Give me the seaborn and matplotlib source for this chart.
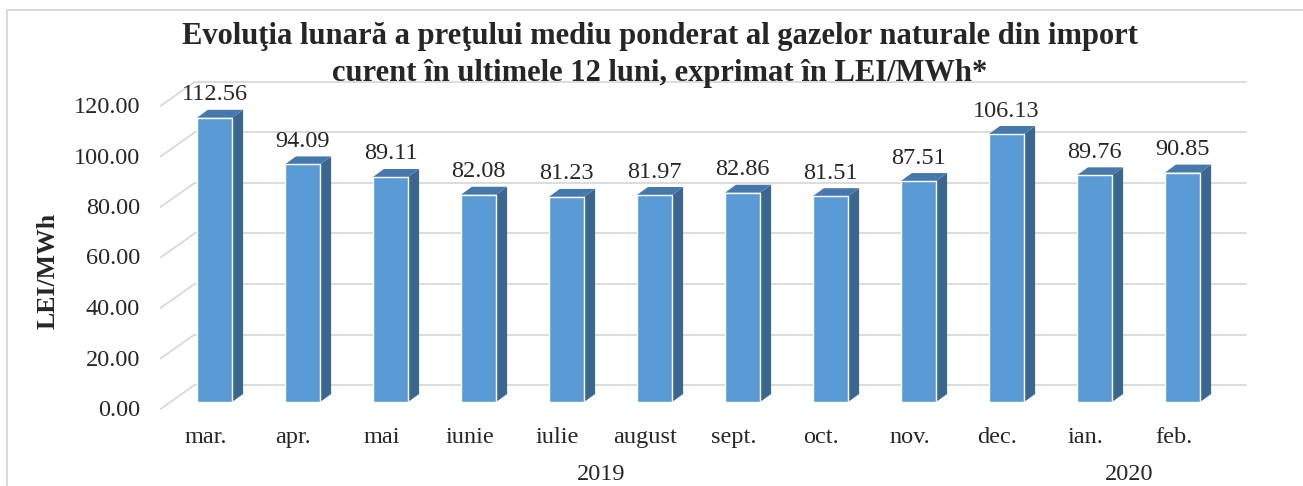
import matplotlib.pyplot as plt
import matplotlib.transforms as mtransforms
from matplotlib.lines import Line2D
from matplotlib.patches import Polygon
import seaborn as sns
import pandas as pd

# chart data
months = ["mar.", "apr.", "mai", "iunie", "iulie", "august",
          "sept.", "oct.", "nov.", "dec.", "ian.", "feb."]
prices = [112.56, 94.09, 89.11, 82.08, 81.23, 81.97,
          82.86, 81.51, 87.51, 106.13, 89.76, 90.85]
years = ["2019", "2020"]
year_spans = [(0, 9), (10, 11)]
y_ticks = [0, 20, 40, 60, 80, 100, 120]

title = ("Evoluţia lunară a preţului mediu ponderat al gazelor naturale din import\n"
         "curent în ultimele 12 luni, exprimat în LEI/MWh*")

df = pd.DataFrame({"luna": months, "pret": prices})

sns.set_style("white")
plt.rcParams["font.family"] = ["Liberation Serif", "DejaVu Serif"]

W, H = 1303, 486
fig = plt.figure(figsize=(W / 100, H / 100), dpi=100)

# pixel scale of the bar front plane
px_cat = 88.0
px_val = 2.525
left_px = 214.5 - 0.5 * px_cat
bottom_px = 402
top_val = 130
ax = fig.add_axes([left_px / W, (H - bottom_px) / H,
                   12 * px_cat / W, top_val * px_val / H])

front = "#5B9BD5"
side = "#3A6690"
top = "#4678AB"
grid = "#D9D9D9"

# offsets (in data units) for the fake 3D look
wx, wy = 24 / px_cat, 17 / px_val      # back wall
fx, fy = -10 / px_cat, -7 / px_val     # front edge of the floor
bx, by = 11 / px_cat, 8 / px_val       # bar depth

for v in y_ticks:
    ax.plot([-0.5 + wx, 11.45 + wx], [v + wy, v + wy], color=grid, lw=1.3,
            zorder=1, clip_on=False)
    ax.plot([-0.5 + fx, -0.5 + wx], [v + fy, v + wy], color=grid, lw=1.3,
            zorder=1, clip_on=False)

sns.barplot(data=df, x="luna", y="pret", color=front, saturation=1,
            width=0.4, ax=ax, zorder=3)

for p in ax.patches:
    x0 = p.get_x()
    x1 = x0 + p.get_width()
    h = p.get_height()
    ax.add_patch(Polygon([(x1, 0), (x1 + bx, by), (x1 + bx, h + by), (x1, h)],
                         closed=True, facecolor=side, edgecolor="none",
                         zorder=2, clip_on=False))
    ax.add_patch(Polygon([(x0, h), (x1, h), (x1 + bx, h + by), (x0 + bx, h + by)],
                         closed=True, facecolor=top, edgecolor="none",
                         zorder=2, clip_on=False))

ax.bar_label(ax.containers[0], fmt="%.2f", padding=9, fontsize=17.5)

ax.set_xlim(-0.5, 11.5)
ax.set_ylim(0, top_val)
ax.set_yticks(y_ticks)
ax.set_yticklabels([f"{v:.2f}" for v in y_ticks])
ax.tick_params(axis="y", length=0, pad=22, labelsize=17.5)
ax.tick_params(axis="x", length=0, pad=18, labelsize=17.5)
ax.set_xlabel("")
ax.set_ylabel("")
for s in ax.spines.values():
    s.set_visible(False)
ax.patch.set_alpha(0)

shift_y = mtransforms.ScaledTranslation(0, -6 / 100, fig.dpi_scale_trans)
for lab in ax.get_yticklabels():
    lab.set_transform(lab.get_transform() + shift_y)
shift_x = mtransforms.ScaledTranslation(-9 / 100, 0, fig.dpi_scale_trans)
for lab in ax.get_xticklabels():
    lab.set_transform(lab.get_transform() + shift_x)

# year labels under the month groups
blend = mtransforms.blended_transform_factory(ax.transData, fig.transFigure)
for yr, (a, b) in zip(years, year_spans):
    ax.text((a + b) / 2 - 9 / px_cat, 1 - 464 / H, yr, transform=blend,
            ha="center", va="top", fontsize=17.5)

fig.text(660 / W, 1 - 22 / H, title, ha="center", va="top", fontsize=22,
         fontweight="bold", linespacing=1.38)
fig.text(48 / W, 1 - 271 / H, "LEI/MWh", rotation=90, ha="center",
         va="center", fontsize=18.5, fontweight="bold")

# chart frame (left and top edges visible)
fig.add_artist(Line2D([7 / W, 7 / W, 1], [0, 1 - 10 / H, 1 - 10 / H],
                      transform=fig.transFigure, color=grid, lw=1.5))

plt.savefig("out.png", dpi=100)
